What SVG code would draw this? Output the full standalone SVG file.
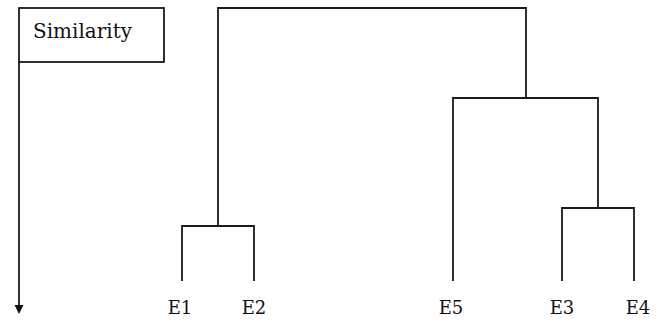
<svg xmlns="http://www.w3.org/2000/svg" width="656" height="321" viewBox="0 0 656 321">
<style>
.ln{fill:none;stroke:#1a1a1a;stroke-width:1.8;stroke-linecap:square}
.t{font-family:"DejaVu Serif","Liberation Serif",serif;font-size:18px;fill:#111}
.big{font-size:20px}
</style>
<rect width="656" height="321" fill="#fff"/>
<g id="similarity">
<rect class="ln" x="19" y="8" width="145" height="54"/>
<text class="t big" x="33" y="38" textLength="99" lengthAdjust="spacingAndGlyphs">Similarity</text>
</g>
<g id="E1"><text class="t" x="180" y="314" text-anchor="middle">E1</text></g>
<g id="E2"><text class="t" x="254" y="314" text-anchor="middle">E2</text></g>
<g id="E5"><text class="t" x="451" y="314" text-anchor="middle">E5</text></g>
<g id="E3"><text class="t" x="562" y="314" text-anchor="middle">E3</text></g>
<g id="E4"><text class="t" x="638" y="314" text-anchor="middle">E4</text></g>
<g id="connectors">
<line class="ln" x1="19" y1="62" x2="19" y2="306"/>
<path d="M14.5,305 L23.5,305 L19,314 Z" fill="#111"/>
<path class="ln" d="M182,280 V226 H254 V280"/>
<path class="ln" d="M562,280 V208 H634 V280"/>
<path class="ln" d="M453,280 V98 H598 V208"/>
<path class="ln" d="M218,226 V8 H526 V98"/>
</g>
</svg>
